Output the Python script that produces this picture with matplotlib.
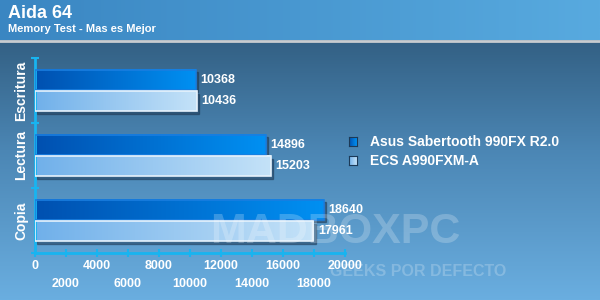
import matplotlib.pyplot as plt
import numpy as np
from matplotlib.colors import LinearSegmentedColormap

plt.rcParams['font.family'] = ['Liberation Sans', 'DejaVu Sans']

categories = ["Escritura", "Lectura", "Copia"]
series_names = ["Asus Sabertooth 990FX R2.0", "ECS A990FXM-A"]
asus = [10368, 14896, 18640]
ecs = [10436, 15203, 17961]
xticks_row1 = [0, 4000, 8000, 12000, 16000, 20000]
xticks_row2 = [2000, 6000, 10000, 14000, 18000]

fig = plt.figure(figsize=(6, 3), dpi=100)

# background gradient
bg = fig.add_axes([0, 0, 1, 1])
bg_cmap = LinearSegmentedColormap.from_list("bg", ["#6aaee0", "#4b86b4", "#2a5272"])
grad = np.linspace(0, 1, 256).reshape(-1, 1)
bg.imshow(grad, aspect="auto", cmap=bg_cmap, extent=[0, 1, 0, 1], origin="lower")
bg.set_xlim(0, 1)
bg.set_ylim(0, 1)
bg.axis("off")

# header band
hd = fig.add_axes([0, 1 - 40 / 300, 1, 40 / 300])
hd_cmap = LinearSegmentedColormap.from_list("hd", ["#3a86c2", "#58aadf"])
hd.imshow(np.linspace(0, 1, 256).reshape(1, -1), aspect="auto", cmap=hd_cmap,
          extent=[0, 1, 0, 1])
hd.set_xlim(0, 1)
hd.set_ylim(0, 1)
hd.axis("off")
fig.add_artist(plt.Line2D([0, 1], [1 - 41 / 300, 1 - 41 / 300], color="#c8ccd0", lw=2))
fig.text(8 / 600, 1 - 13 / 300, "Aida 64", color="white", fontsize=13,
         fontweight="bold", va="center", ha="left")
fig.text(8 / 600, 1 - 29 / 300, "Memory Test - Mas es Mejor", color="white",
         fontsize=8, fontweight="bold", va="center", ha="left")

# watermark
fig.text(210 / 600, 1 - 232 / 300, "MADBOXPC", color="white", alpha=0.22,
         fontsize=31, fontweight="bold", va="center", ha="left")
fig.text(330 / 600, 1 - 271 / 300, "GEEKS POR DEFECTO", color="white", alpha=0.22,
         fontsize=11.5, fontweight="bold", va="center", ha="left")

ax = fig.add_axes([35 / 600, 1 - 253 / 300, 310 / 600, 195 / 300])
ax.patch.set_alpha(0)

y = np.arange(len(categories))[::-1].astype(float)
h = 0.31
gap = 0.02
b1 = ax.barh(y + h / 2 + gap / 2, asus, height=h, color="none", edgecolor="#1a7ee0", lw=1.2, zorder=3)
b2 = ax.barh(y - h / 2 - gap / 2, ecs, height=h, color="none", edgecolor="#e6f2fc", lw=1.2, zorder=3)

cm1 = LinearSegmentedColormap.from_list("s1", ["#0050b0", "#0090f2"])
cm2 = LinearSegmentedColormap.from_list("s2", ["#70b0ea", "#c4e2f8"])
hgrad = np.linspace(0, 1, 256).reshape(1, -1)
for bars, cm, vals in [(b1, cm1, asus), (b2, cm2, ecs)]:
    for bar, v in zip(bars, vals):
        x0, y0 = bar.get_x(), bar.get_y()
        w, hh = bar.get_width(), bar.get_height()
        # shadow
        ax.add_patch(plt.Rectangle((x0 + 150, y0 - 0.04), w, hh, color="#1c3550",
                                   alpha=0.5, zorder=1))
        ax.imshow(hgrad, aspect="auto", cmap=cm, extent=[x0, x0 + w, y0, y0 + hh],
                  zorder=2)
        ax.text(v + 300, y0 + hh / 2, str(v), color="white", fontsize=9,
                fontweight="bold", va="center", ha="left", zorder=4)

ax.set_xlim(0, 20000)
ax.set_ylim(-0.5, 2.5)

for s in ["top", "right"]:
    ax.spines[s].set_visible(False)
for s in ["left", "bottom"]:
    ax.spines[s].set_color("#18b4f0")
    ax.spines[s].set_linewidth(2)

# staggered x labels: two rows via major / minor ticks
ax.set_xticks(xticks_row1)
ax.set_xticklabels([str(t) for t in xticks_row1], fontweight="bold")
ax.set_xticks(xticks_row2, minor=True)
ax.set_xticklabels([str(t) for t in xticks_row2], minor=True, fontweight="bold")
ax.tick_params(axis="x", which="major", direction="inout", length=6, width=1.5,
               color="#18b4f0", labelcolor="white", labelsize=9, pad=2)
ax.tick_params(axis="x", which="minor", direction="inout", length=6, width=1.5,
               color="#18b4f0", labelcolor="white", labelsize=9, pad=15)

ax.set_yticks(y)
ax.set_yticklabels(categories, rotation=90, va="center", fontsize=10,
                   fontweight="bold", color="white")
ax.tick_params(axis="y", which="major", length=0, pad=5)
ax.set_yticks([-0.5, 0.5, 1.5, 2.5], minor=True)
ax.tick_params(axis="y", which="minor", direction="inout", length=6, width=1.5,
               color="#18b4f0")

# legend
for i, (name, cm) in enumerate([(series_names[0], cm1), (series_names[1], cm2)]):
    ly = 1 - (142 + i * 19) / 300
    lax = fig.add_axes([349 / 600, ly - 4 / 300, 8 / 600, 9 / 300])
    lax.imshow(np.linspace(0, 1, 64).reshape(1, -1), aspect="auto", cmap=cm)
    lax.set_xticks([])
    lax.set_yticks([])
    for s in lax.spines.values():
        s.set_color("#1c3a58")
        s.set_linewidth(0.8)
    fig.text(370 / 600, ly, name, color="white", fontsize=10, fontweight="bold",
             va="center", ha="left")

fig.savefig("out.png", dpi=100)
